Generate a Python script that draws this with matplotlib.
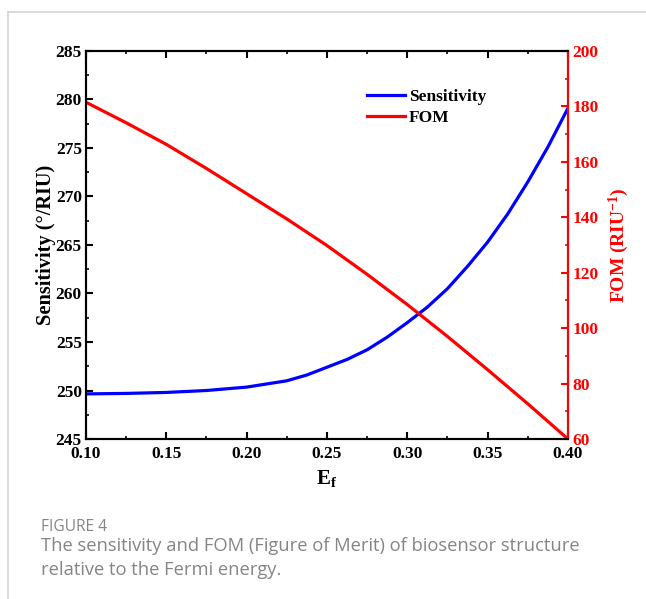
import matplotlib
matplotlib.use("Agg")
import matplotlib.pyplot as plt
from matplotlib.lines import Line2D

# 데이터
ef_sens = [0.100, 0.125, 0.150, 0.175, 0.200, 0.225, 0.2375, 0.250, 0.2625, 0.275, 0.2875,
           0.300, 0.3125, 0.325, 0.3375, 0.350, 0.3625, 0.375, 0.3875, 0.400]
sensitivity = [249.65, 249.7, 249.8, 250.0, 250.35, 251.0, 251.6, 252.4, 253.2, 254.2, 255.5,
               257.0, 258.6, 260.5, 262.8, 265.3, 268.2, 271.5, 275.1, 279.1]
ef_fom = [0.100, 0.125, 0.150, 0.175, 0.200, 0.225, 0.250, 0.275, 0.300, 0.325, 0.350, 0.375, 0.400]
fom = [181.5, 174.1, 166.3, 157.6, 148.5, 139.4, 129.8, 119.4, 108.5, 97.0, 85.0, 72.7, 60.0]

x_ticks = [0.10, 0.15, 0.20, 0.25, 0.30, 0.35, 0.40]
left_ticks = [245, 250, 255, 260, 265, 270, 275, 280, 285]
right_ticks = [60, 80, 100, 120, 140, 160, 180, 200]

plt.rcParams['font.family'] = ['Liberation Serif', 'DejaVu Serif']
plt.rcParams['font.weight'] = 'bold'
plt.rcParams['mathtext.default'] = 'regular'

fig = plt.figure(figsize=(6.46, 5.99), dpi=100)
ax = fig.add_axes([0.1331, 0.2671, 0.7461, 0.6478])
ax2 = ax.twinx()

l1, = ax.plot(ef_sens, sensitivity, color='#0000ff', lw=2.3, label='Sensitivity')
l2, = ax2.plot(ef_fom, fom, color='#ff0000', lw=2.3, label='FOM')

ax.set_xlim(0.10, 0.40)
ax.set_ylim(245, 285)
ax2.set_ylim(60, 200)
ax.set_xticks(x_ticks)
ax.set_xticklabels([f'{v:.2f}' for v in x_ticks])
ax.set_xticks([0.125, 0.175, 0.225, 0.275, 0.325, 0.375], minor=True)
ax.set_yticks(left_ticks)
ax.set_yticks([v + 2.5 for v in left_ticks[:-1]], minor=True)
ax2.set_yticks(right_ticks)
ax2.set_yticks([v + 10 for v in right_ticks[:-1]], minor=True)

for sp in ax.spines.values():
    sp.set_linewidth(1.5)
for sp in ax2.spines.values():
    sp.set_linewidth(1.5)
ax2.spines['right'].set_color('#ff0000')

ax.tick_params(which='major', direction='in', length=5, width=1.5, labelsize=12.5,
               pad=3, top=True)
ax.tick_params(axis='x', which='major', pad=5)
ax.tick_params(which='minor', direction='in', length=2.5, width=1.2, top=True)
ax2.tick_params(which='major', direction='in', length=5, width=1.5, labelsize=12.5,
                pad=3, colors='#ff0000')
ax2.tick_params(which='minor', direction='in', length=2.5, width=1.2, colors='#ff0000')
for lab in ax.get_xticklabels() + ax.get_yticklabels() + ax2.get_yticklabels():
    lab.set_fontweight('bold')

ax.set_xlabel('E$_f$', fontsize=15, fontweight='bold', labelpad=4)
ax.set_ylabel('Sensitivity (°/RIU)', fontsize=14.7, fontweight='bold', labelpad=0)
ax2.set_ylabel('FOM (RIU$^{-1}$)', fontsize=14, fontweight='bold', color='#ff0000', labelpad=6)

ax.legend(handles=[l1, l2], loc='upper left', bbox_to_anchor=(0.583, 0.902),
          frameon=False, borderaxespad=0, borderpad=0,
          handlelength=2.2, handletextpad=0.2, labelspacing=0.25,
          prop={'weight': 'bold', 'size': 12.5})

# 캡션 테두리
fig.add_artist(Line2D([0.0124, 1.0], [0.98, 0.98], color='#d4d4d4', lw=1.2))
fig.add_artist(Line2D([0.0124, 0.0124], [0.0, 0.98], color='#d4d4d4', lw=1.2))

cap_font = ['Open Sans', 'DejaVu Sans']
fig.text(41 / 646, 1 - 527 / 599, 'FIGURE 4', fontsize=11.2, color='#858585',
         family=cap_font, fontweight='normal', va='center')
fig.text(41 / 646, 1 - 546 / 599, 'The sensitivity and FOM (Figure of Merit) of biosensor structure',
         fontsize=13.2, color='#858585', family=cap_font, fontweight='normal', va='center')
fig.text(41 / 646, 1 - 570 / 599, 'relative to the Fermi energy.',
         fontsize=13.2, color='#858585', family=cap_font, fontweight='normal', va='center')

plt.savefig('out.png', dpi=100)
